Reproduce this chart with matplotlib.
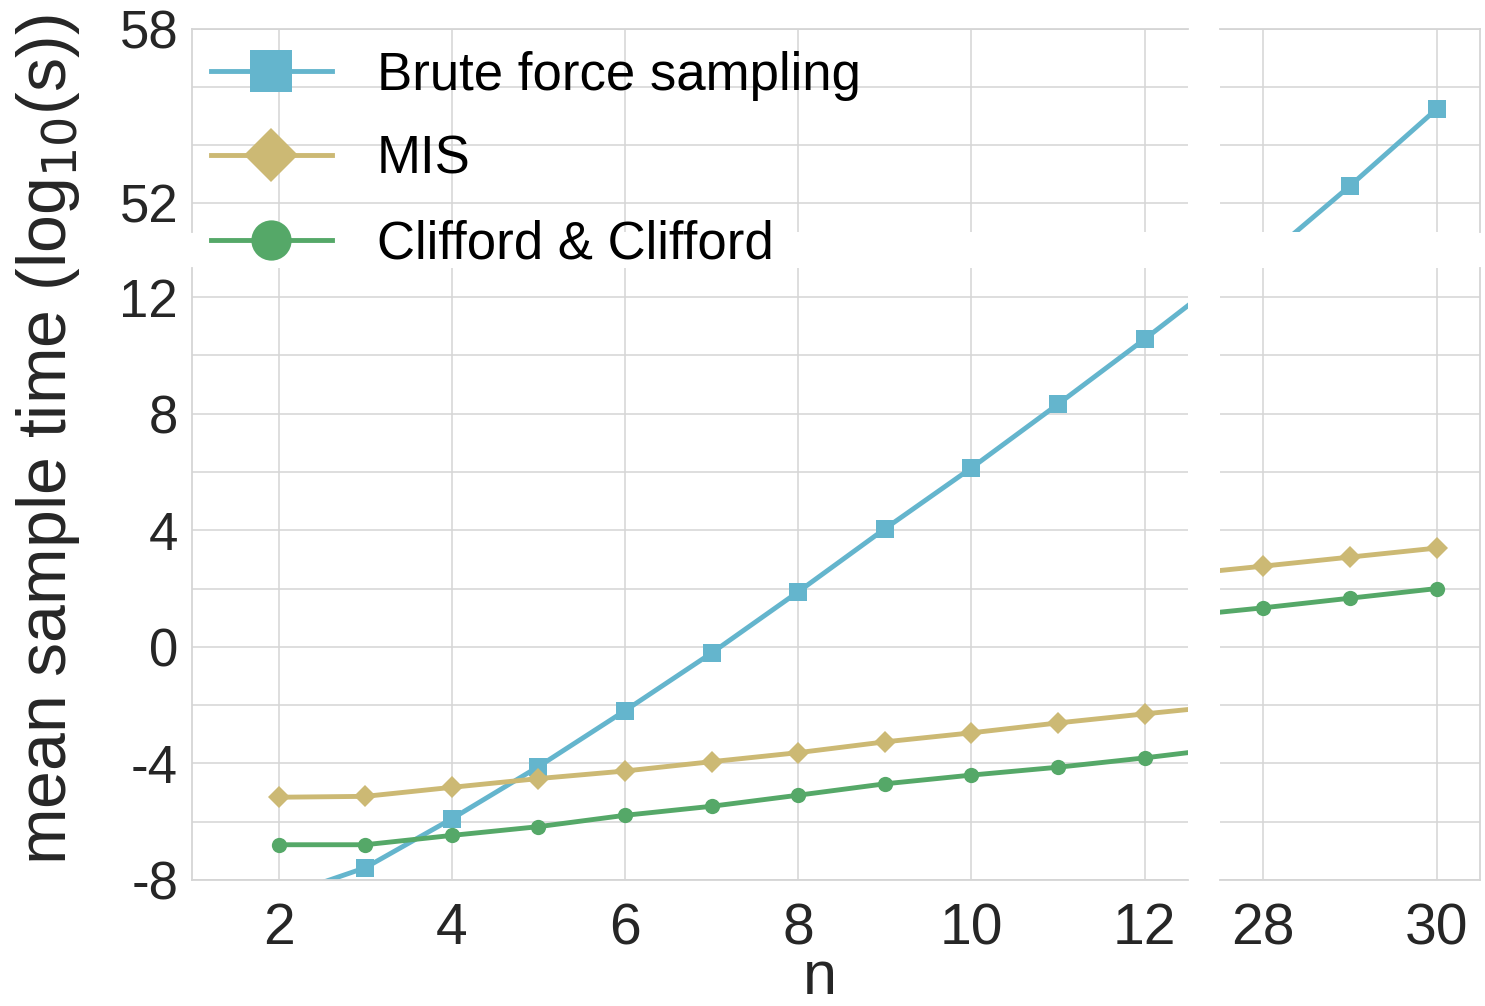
import numpy as np
import matplotlib
matplotlib.use("Agg")
import matplotlib.pyplot as plt
from matplotlib.lines import Line2D

# ---- data ----
n_small = [2, 3, 4, 5, 6, 7, 8, 9, 10, 11, 12, 13]
brute_small = [-8.6, -7.58, -5.90, -4.11, -2.19, -0.21, 1.89, 4.05, 6.14, 8.33, 10.56, 12.86]
mis_small = [-5.16, -5.13, -4.82, -4.52, -4.26, -3.94, -3.63, -3.26, -2.95, -2.61, -2.30, -2.0]
cc_small = [-6.79, -6.79, -6.47, -6.17, -5.78, -5.47, -5.09, -4.70, -4.40, -4.13, -3.81, -3.45]

n_large = [27, 28, 29, 30]
brute_large = [np.nan, 50.05, 52.59, 55.24]
mis_large = [2.47, 2.77, 3.08, 3.39]
cc_large = [1.04, 1.34, 1.67, 2.00]

labels = ["Brute force sampling", "MIS", "Clifford & Clifford"]
colors = ["#64b5cd", "#ccb974", "#55a868"]
markers = ["s", "D", "o"]
msizes = [12.5, 11.5, 11]
legend_msizes = [30, 27, 29]

x_ticks_left = [2, 4, 6, 8, 10, 12]
x_ticks_right = [28, 30]
y_ticks_bottom = [-8, -6, -4, -2, 0, 2, 4, 6, 8, 10, 12]
y_ticks_top = [52, 54, 56, 58]

plt.rcParams["font.family"] = ["Liberation Sans", "DejaVu Sans"]
text_color = "#262626"
grid_color = "#d5d5d5"

W, H = 1485, 1006
fig = plt.figure(figsize=(W / 100, H / 100), dpi=100)

def fx(px):
    return px / W

def fy(py):
    return 1 - py / H

xl0, xl1 = 192, 1188
xr0, xr1 = 1220, 1480
yt0, yt1 = 29, 232
yb0, yb1 = 268, 880

ax_tl = fig.add_axes([fx(xl0), fy(yt1), fx(xl1 - xl0), (yt1 - yt0) / H])
ax_tr = fig.add_axes([fx(xr0), fy(yt1), fx(xr1 - xr0), (yt1 - yt0) / H])
ax_bl = fig.add_axes([fx(xl0), fy(yb1), fx(xl1 - xl0), (yb1 - yb0) / H])
ax_br = fig.add_axes([fx(xr0), fy(yb1), fx(xr1 - xr0), (yb1 - yb0) / H])

series_small = [brute_small, mis_small, cc_small]
series_large = [brute_large, mis_large, cc_large]

for ax in (ax_tl, ax_bl):
    for ys, c, m, ms in zip(series_small, colors, markers, msizes):
        ax.plot(n_small, ys, color=c, marker=m, ms=ms, lw=3.5, markeredgewidth=0)
for ax in (ax_tr, ax_br):
    for ys, c, m, ms in zip(series_large, colors, markers, msizes):
        ax.plot(n_large, ys, color=c, marker=m, ms=ms, lw=3.5, markeredgewidth=0)

for ax in (ax_tl, ax_bl):
    ax.set_xlim(1, 12.5)
    ax.set_xticks(x_ticks_left)
for ax in (ax_tr, ax_br):
    ax.set_xlim(27.5, 30.5)
    ax.set_xticks(x_ticks_right)
for ax in (ax_tl, ax_tr):
    ax.set_ylim(51, 58)
    ax.set_yticks(y_ticks_top)
for ax in (ax_bl, ax_br):
    ax.set_ylim(-8, 13)
    ax.set_yticks(y_ticks_bottom)

ax_tl.set_yticklabels([str(v) if v in (52, 58) else "" for v in y_ticks_top])
ax_bl.set_yticklabels([str(v) if v % 4 == 0 else "" for v in y_ticks_bottom])
ax_tr.set_yticklabels([])
ax_br.set_yticklabels([])
ax_tl.set_xticklabels([])
ax_tr.set_xticklabels([])
ax_bl.set_xticklabels([str(v) for v in x_ticks_left])
ax_br.set_xticklabels([str(v) for v in x_ticks_right])

for ax in (ax_tl, ax_tr, ax_bl, ax_br):
    ax.set_facecolor("white")
    ax.grid(True, color=grid_color, lw=1.1)
    ax.set_axisbelow(True)
    ax.tick_params(length=0, colors=text_color, labelsize=38, pad=10)
    for s in ax.spines.values():
        s.set_color(grid_color)
        s.set_linewidth(1.3)

ax_bl.tick_params(axis="x", labelsize=41, pad=16)
ax_br.tick_params(axis="x", labelsize=41, pad=16)

# hide inner spines for broken-axis look
ax_tl.spines["bottom"].set_visible(False)
ax_tl.spines["right"].set_visible(False)
ax_tr.spines["bottom"].set_visible(False)
ax_tr.spines["left"].set_visible(False)
ax_bl.spines["top"].set_visible(False)
ax_bl.spines["right"].set_visible(False)
ax_br.spines["top"].set_visible(False)
ax_br.spines["left"].set_visible(False)

fig.text(fx(48), fy(440), "mean sample time (log$_{10}$(s))", rotation=90,
         ha="center", va="center", fontsize=49, color=text_color)
fig.text(fx(820), fy(978), "n", ha="center", va="center", fontsize=44,
         color=text_color)

handles = [Line2D([], [], color=c, marker=m, ms=ms, lw=3.5, markeredgewidth=0)
           for c, m, ms in zip(colors, markers, legend_msizes)]
leg = fig.legend(handles=handles, labels=labels, loc="upper left",
                 bbox_to_anchor=(fx(200), fy(40)), frameon=False,
                 fontsize=38, handlelength=2.3,
                 handletextpad=0.85, labelspacing=0.65, borderaxespad=0,
                 borderpad=0.2)
for t in leg.get_texts():
    t.set_color("black")
leg.set_zorder(10)

fig.savefig("out.png", dpi=100, facecolor="white")
